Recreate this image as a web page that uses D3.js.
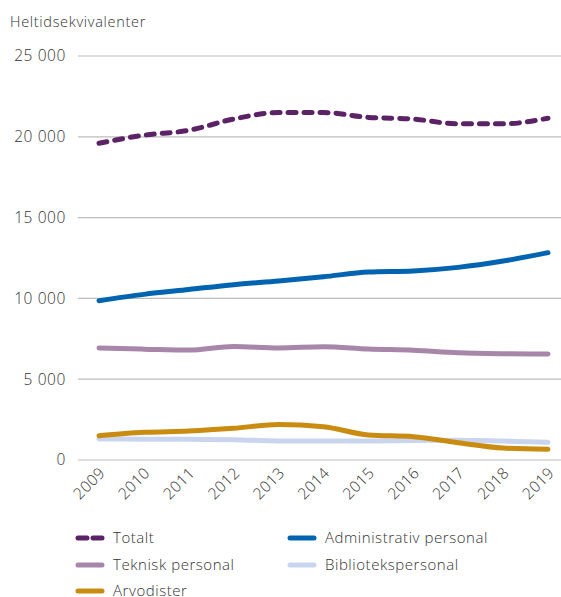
<!DOCTYPE html>
<html><head><meta charset="utf-8">
<script src="https://cdn.jsdelivr.net/npm/d3@7"></script>
<style>body{margin:0;background:#fff;} text{font-family:"Open Sans","Noto Sans",sans-serif;font-weight:300;fill:#333;}</style>
</head><body>
<svg id="c" width="561" height="597"></svg>
<script>
const years = [2009,2010,2011,2012,2013,2014,2015,2016,2017,2018,2019];
const totalt = [19600,20100,20400,21100,21500,21500,21200,21100,20800,20800,21150];
const administrativ = [9860,10250,10550,10850,11080,11340,11630,11700,11920,12310,12830];
const teknisk = [6930,6860,6800,7030,6930,7010,6870,6790,6640,6580,6560];
const bibliotek = [1300,1290,1280,1260,1180,1180,1180,1200,1220,1170,1100];
const arvodister = [1500,1710,1790,1960,2200,2060,1550,1440,1070,740,660];
const yTicks = [0,5000,10000,15000,20000,25000];
const yTitle = "Heltidsekvivalenter";

const series = [
  {name:"Totalt", values:totalt, color:"#5b2366", dash:"8,8"},
  {name:"Administrativ personal", values:administrativ, color:"#0064b0"},
  {name:"Teknisk personal", values:teknisk, color:"#a786a9"},
  {name:"Bibliotekspersonal", values:bibliotek, color:"#c9d5ee"},
  {name:"Arvodister", values:arvodister, color:"#c98b10"}
];

const svg = d3.select("#c");
const x = d3.scaleLinear().domain([2009,2019]).range([99,548]);
const y = d3.scaleLinear().domain([0,25000]).range([460,56]);
const fmt = v => d3.format(",")(v).replace(/,/g," ");

svg.append("text").attr("x",10).attr("y",27).attr("font-size",14.5).attr("letter-spacing",0.7).text(yTitle);

const gy = svg.append("g");
yTicks.forEach(t=>{
  gy.append("line").attr("x1",78).attr("x2",561).attr("y1",y(t)).attr("y2",y(t))
    .attr("stroke","#bdbdbd").attr("stroke-width",1.2);
  gy.append("text").attr("x",66).attr("y",y(t)).attr("dy","0.35em")
    .attr("text-anchor","end").attr("font-size",15.5).attr("letter-spacing",0.6).text(fmt(t));
});

years.forEach(yr=>{
  svg.append("text").attr("text-anchor","end").attr("font-size",15.5).attr("letter-spacing",0.4)
    .attr("transform",`translate(${x(yr)+7},${474}) rotate(-45)`).text(yr);
});

const line = d3.line().x((d,i)=>x(years[i])).y(d=>y(d)).curve(d3.curveMonotoneX);
const order = [3,4,2,1,0];
order.forEach(k=>{
  const s = series[k];
  svg.append("path").attr("d",line(s.values)).attr("fill","none")
    .attr("stroke",s.color).attr("stroke-width",5).attr("stroke-linecap","round")
    .attr("stroke-linejoin","round").attr("stroke-dasharray",s.dash||null);
});

const leg = [[0,76,538],[1,288,538],[2,76,565],[3,288,565],[4,76,591]];
leg.forEach(([k,lx,ly])=>{
  const s = series[k];
  if (s.dash) {
    [0,1].forEach(j=>svg.append("line").attr("x1",lx+2+j*15).attr("x2",lx+11+j*15)
      .attr("y1",ly).attr("y2",ly).attr("stroke",s.color).attr("stroke-width",5).attr("stroke-linecap","round"));
  } else {
    svg.append("line").attr("x1",lx+2).attr("x2",lx+26).attr("y1",ly).attr("y2",ly)
      .attr("stroke",s.color).attr("stroke-width",5).attr("stroke-linecap","round");
  }
  svg.append("text").attr("x",lx+37).attr("y",ly).attr("dy","0.35em").attr("font-size",15).attr("letter-spacing",0.55).text(s.name);
});
</script>
</body></html>
